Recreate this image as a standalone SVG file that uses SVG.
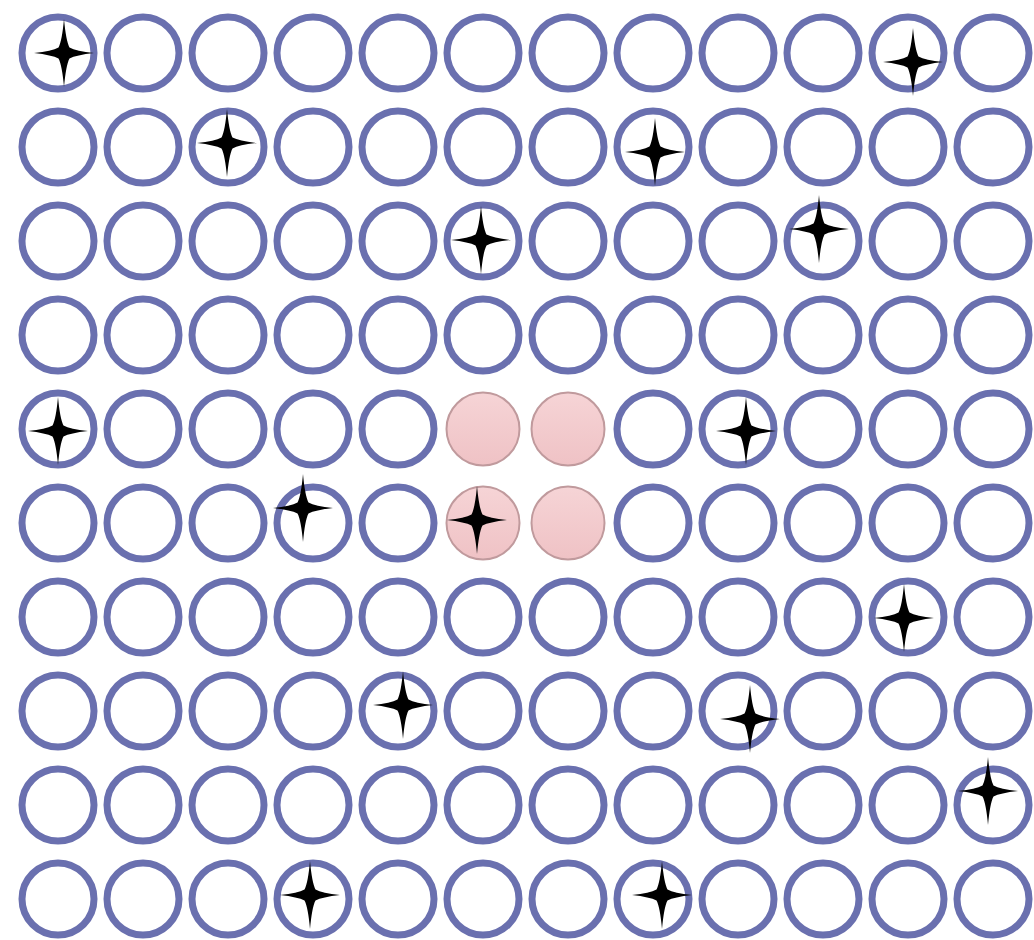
<svg xmlns="http://www.w3.org/2000/svg" xmlns:xlink="http://www.w3.org/1999/xlink" width="1034" height="940" viewBox="0 0 1034 940">
<style>
.ring{fill:none;stroke:#6a70af;stroke-width:7}
.pink{fill:url(#pg);stroke:#c09a9d;stroke-width:2}
.star{fill:#000}
</style>
<defs>
<linearGradient id="pg" x1="0" y1="0" x2="0" y2="1">
<stop offset="0" stop-color="#f6d4d6"/>
<stop offset="1" stop-color="#efc2c5"/>
</linearGradient>
<path id="star" class="star" d="M0,-34 Q2,-12 5.5,-5.5 Q12,-2 30,0 Q12,2 5.5,5.5 Q2,12 0,34 Q-2,12 -5.5,5.5 Q-12,2 -30,0 Q-12,-2 -5.5,-5.5 Q-2,-12 0,-34Z"/>
</defs>
<rect width="1034" height="940" fill="#ffffff"/>
<g id="connectors"></g>
<!-- row 0 -->
<g id="n0-0"><circle class="ring" cx="58" cy="53" r="36"/><use href="#star" x="64" y="53"/></g>
<g id="n0-1"><circle class="ring" cx="143" cy="53" r="36"/></g>
<g id="n0-2"><circle class="ring" cx="228" cy="53" r="36"/></g>
<g id="n0-3"><circle class="ring" cx="313" cy="53" r="36"/></g>
<g id="n0-4"><circle class="ring" cx="398" cy="53" r="36"/></g>
<g id="n0-5"><circle class="ring" cx="483" cy="53" r="36"/></g>
<g id="n0-6"><circle class="ring" cx="568" cy="53" r="36"/></g>
<g id="n0-7"><circle class="ring" cx="653" cy="53" r="36"/></g>
<g id="n0-8"><circle class="ring" cx="738" cy="53" r="36"/></g>
<g id="n0-9"><circle class="ring" cx="823" cy="53" r="36"/></g>
<g id="n0-10"><circle class="ring" cx="908" cy="53" r="36"/><use href="#star" x="913" y="62"/></g>
<g id="n0-11"><circle class="ring" cx="993" cy="53" r="36"/></g>
<!-- row 1 -->
<g id="n1-0"><circle class="ring" cx="58" cy="147" r="36"/></g>
<g id="n1-1"><circle class="ring" cx="143" cy="147" r="36"/></g>
<g id="n1-2"><circle class="ring" cx="228" cy="147" r="36"/><use href="#star" x="227" y="143"/></g>
<g id="n1-3"><circle class="ring" cx="313" cy="147" r="36"/></g>
<g id="n1-4"><circle class="ring" cx="398" cy="147" r="36"/></g>
<g id="n1-5"><circle class="ring" cx="483" cy="147" r="36"/></g>
<g id="n1-6"><circle class="ring" cx="568" cy="147" r="36"/></g>
<g id="n1-7"><circle class="ring" cx="653" cy="147" r="36"/><use href="#star" x="655" y="152"/></g>
<g id="n1-8"><circle class="ring" cx="738" cy="147" r="36"/></g>
<g id="n1-9"><circle class="ring" cx="823" cy="147" r="36"/></g>
<g id="n1-10"><circle class="ring" cx="908" cy="147" r="36"/></g>
<g id="n1-11"><circle class="ring" cx="993" cy="147" r="36"/></g>
<!-- row 2 -->
<g id="n2-0"><circle class="ring" cx="58" cy="241" r="36"/></g>
<g id="n2-1"><circle class="ring" cx="143" cy="241" r="36"/></g>
<g id="n2-2"><circle class="ring" cx="228" cy="241" r="36"/></g>
<g id="n2-3"><circle class="ring" cx="313" cy="241" r="36"/></g>
<g id="n2-4"><circle class="ring" cx="398" cy="241" r="36"/></g>
<g id="n2-5"><circle class="ring" cx="483" cy="241" r="36"/><use href="#star" x="481" y="240"/></g>
<g id="n2-6"><circle class="ring" cx="568" cy="241" r="36"/></g>
<g id="n2-7"><circle class="ring" cx="653" cy="241" r="36"/></g>
<g id="n2-8"><circle class="ring" cx="738" cy="241" r="36"/></g>
<g id="n2-9"><circle class="ring" cx="823" cy="241" r="36"/><use href="#star" x="819" y="229"/></g>
<g id="n2-10"><circle class="ring" cx="908" cy="241" r="36"/></g>
<g id="n2-11"><circle class="ring" cx="993" cy="241" r="36"/></g>
<!-- row 3 -->
<g id="n3-0"><circle class="ring" cx="58" cy="335" r="36"/></g>
<g id="n3-1"><circle class="ring" cx="143" cy="335" r="36"/></g>
<g id="n3-2"><circle class="ring" cx="228" cy="335" r="36"/></g>
<g id="n3-3"><circle class="ring" cx="313" cy="335" r="36"/></g>
<g id="n3-4"><circle class="ring" cx="398" cy="335" r="36"/></g>
<g id="n3-5"><circle class="ring" cx="483" cy="335" r="36"/></g>
<g id="n3-6"><circle class="ring" cx="568" cy="335" r="36"/></g>
<g id="n3-7"><circle class="ring" cx="653" cy="335" r="36"/></g>
<g id="n3-8"><circle class="ring" cx="738" cy="335" r="36"/></g>
<g id="n3-9"><circle class="ring" cx="823" cy="335" r="36"/></g>
<g id="n3-10"><circle class="ring" cx="908" cy="335" r="36"/></g>
<g id="n3-11"><circle class="ring" cx="993" cy="335" r="36"/></g>
<!-- row 4 -->
<g id="n4-0"><circle class="ring" cx="58" cy="429" r="36"/><use href="#star" x="58" y="431"/></g>
<g id="n4-1"><circle class="ring" cx="143" cy="429" r="36"/></g>
<g id="n4-2"><circle class="ring" cx="228" cy="429" r="36"/></g>
<g id="n4-3"><circle class="ring" cx="313" cy="429" r="36"/></g>
<g id="n4-4"><circle class="ring" cx="398" cy="429" r="36"/></g>
<g id="n4-5"><circle class="pink" cx="483" cy="429" r="36.5"/></g>
<g id="n4-6"><circle class="pink" cx="568" cy="429" r="36.5"/></g>
<g id="n4-7"><circle class="ring" cx="653" cy="429" r="36"/></g>
<g id="n4-8"><circle class="ring" cx="738" cy="429" r="36"/><use href="#star" x="746" y="431"/></g>
<g id="n4-9"><circle class="ring" cx="823" cy="429" r="36"/></g>
<g id="n4-10"><circle class="ring" cx="908" cy="429" r="36"/></g>
<g id="n4-11"><circle class="ring" cx="993" cy="429" r="36"/></g>
<!-- row 5 -->
<g id="n5-0"><circle class="ring" cx="58" cy="523" r="36"/></g>
<g id="n5-1"><circle class="ring" cx="143" cy="523" r="36"/></g>
<g id="n5-2"><circle class="ring" cx="228" cy="523" r="36"/></g>
<g id="n5-3"><circle class="ring" cx="313" cy="523" r="36"/><use href="#star" x="303" y="508"/></g>
<g id="n5-4"><circle class="ring" cx="398" cy="523" r="36"/></g>
<g id="n5-5"><circle class="pink" cx="483" cy="523" r="36.5"/><use href="#star" x="477" y="520"/></g>
<g id="n5-6"><circle class="pink" cx="568" cy="523" r="36.5"/></g>
<g id="n5-7"><circle class="ring" cx="653" cy="523" r="36"/></g>
<g id="n5-8"><circle class="ring" cx="738" cy="523" r="36"/></g>
<g id="n5-9"><circle class="ring" cx="823" cy="523" r="36"/></g>
<g id="n5-10"><circle class="ring" cx="908" cy="523" r="36"/></g>
<g id="n5-11"><circle class="ring" cx="993" cy="523" r="36"/></g>
<!-- row 6 -->
<g id="n6-0"><circle class="ring" cx="58" cy="617" r="36"/></g>
<g id="n6-1"><circle class="ring" cx="143" cy="617" r="36"/></g>
<g id="n6-2"><circle class="ring" cx="228" cy="617" r="36"/></g>
<g id="n6-3"><circle class="ring" cx="313" cy="617" r="36"/></g>
<g id="n6-4"><circle class="ring" cx="398" cy="617" r="36"/></g>
<g id="n6-5"><circle class="ring" cx="483" cy="617" r="36"/></g>
<g id="n6-6"><circle class="ring" cx="568" cy="617" r="36"/></g>
<g id="n6-7"><circle class="ring" cx="653" cy="617" r="36"/></g>
<g id="n6-8"><circle class="ring" cx="738" cy="617" r="36"/></g>
<g id="n6-9"><circle class="ring" cx="823" cy="617" r="36"/></g>
<g id="n6-10"><circle class="ring" cx="908" cy="617" r="36"/><use href="#star" x="904" y="618"/></g>
<g id="n6-11"><circle class="ring" cx="993" cy="617" r="36"/></g>
<!-- row 7 -->
<g id="n7-0"><circle class="ring" cx="58" cy="711" r="36"/></g>
<g id="n7-1"><circle class="ring" cx="143" cy="711" r="36"/></g>
<g id="n7-2"><circle class="ring" cx="228" cy="711" r="36"/></g>
<g id="n7-3"><circle class="ring" cx="313" cy="711" r="36"/></g>
<g id="n7-4"><circle class="ring" cx="398" cy="711" r="36"/><use href="#star" x="403" y="705"/></g>
<g id="n7-5"><circle class="ring" cx="483" cy="711" r="36"/></g>
<g id="n7-6"><circle class="ring" cx="568" cy="711" r="36"/></g>
<g id="n7-7"><circle class="ring" cx="653" cy="711" r="36"/></g>
<g id="n7-8"><circle class="ring" cx="738" cy="711" r="36"/><use href="#star" x="750" y="719"/></g>
<g id="n7-9"><circle class="ring" cx="823" cy="711" r="36"/></g>
<g id="n7-10"><circle class="ring" cx="908" cy="711" r="36"/></g>
<g id="n7-11"><circle class="ring" cx="993" cy="711" r="36"/></g>
<!-- row 8 -->
<g id="n8-0"><circle class="ring" cx="58" cy="805" r="36"/></g>
<g id="n8-1"><circle class="ring" cx="143" cy="805" r="36"/></g>
<g id="n8-2"><circle class="ring" cx="228" cy="805" r="36"/></g>
<g id="n8-3"><circle class="ring" cx="313" cy="805" r="36"/></g>
<g id="n8-4"><circle class="ring" cx="398" cy="805" r="36"/></g>
<g id="n8-5"><circle class="ring" cx="483" cy="805" r="36"/></g>
<g id="n8-6"><circle class="ring" cx="568" cy="805" r="36"/></g>
<g id="n8-7"><circle class="ring" cx="653" cy="805" r="36"/></g>
<g id="n8-8"><circle class="ring" cx="738" cy="805" r="36"/></g>
<g id="n8-9"><circle class="ring" cx="823" cy="805" r="36"/></g>
<g id="n8-10"><circle class="ring" cx="908" cy="805" r="36"/></g>
<g id="n8-11"><circle class="ring" cx="993" cy="805" r="36"/><use href="#star" x="988" y="791"/></g>
<!-- row 9 -->
<g id="n9-0"><circle class="ring" cx="58" cy="899" r="36"/></g>
<g id="n9-1"><circle class="ring" cx="143" cy="899" r="36"/></g>
<g id="n9-2"><circle class="ring" cx="228" cy="899" r="36"/></g>
<g id="n9-3"><circle class="ring" cx="313" cy="899" r="36"/><use href="#star" x="310" y="895"/></g>
<g id="n9-4"><circle class="ring" cx="398" cy="899" r="36"/></g>
<g id="n9-5"><circle class="ring" cx="483" cy="899" r="36"/></g>
<g id="n9-6"><circle class="ring" cx="568" cy="899" r="36"/></g>
<g id="n9-7"><circle class="ring" cx="653" cy="899" r="36"/><use href="#star" x="662" y="895"/></g>
<g id="n9-8"><circle class="ring" cx="738" cy="899" r="36"/></g>
<g id="n9-9"><circle class="ring" cx="823" cy="899" r="36"/></g>
<g id="n9-10"><circle class="ring" cx="908" cy="899" r="36"/></g>
<g id="n9-11"><circle class="ring" cx="993" cy="899" r="36"/></g>
</svg>
